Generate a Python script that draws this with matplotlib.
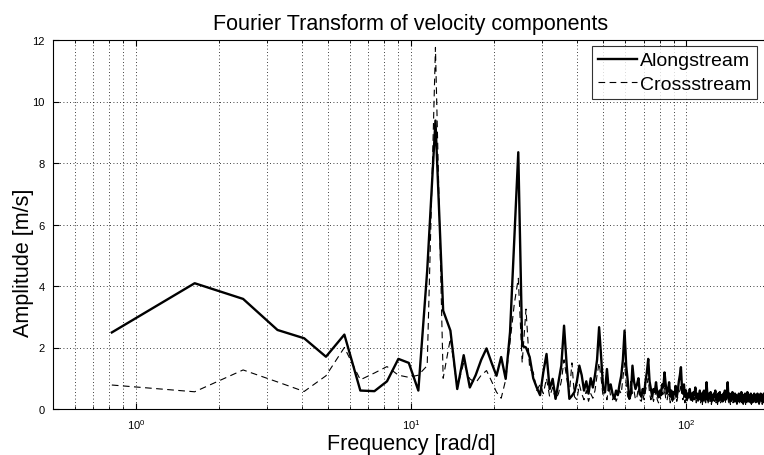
import numpy as np
import matplotlib
matplotlib.use("Agg")
import matplotlib.pyplot as plt

# frequency resolution of the FFT grid [rad/d]
df = 0.818

along = [
    2.49, 4.09, 3.58, 2.57, 2.30, 1.70, 2.42, 0.60, 0.58, 0.90,
    1.63, 1.50, 0.60, 4.50, 9.38, 3.20, 2.55, 0.65, 1.75, 0.70,
    1.10, 1.60, 1.97, 1.50, 1.08, 1.69, 0.98, 2.50, 5.50, 8.35,
    2.06, 2.00, 1.69, 1.00, 0.70, 0.45, 1.20, 1.79, 0.65, 0.98,
    0.33, 0.87, 1.41, 2.71, 1.40, 0.33, 0.43, 0.55, 0.90, 1.41,
    1.10, 0.60, 0.90, 0.50, 1.00, 0.70, 1.10, 1.60, 2.66, 1.70,
    0.70, 0.55, 1.30, 0.60, 0.80, 0.50, 0.33, 0.60, 0.45, 0.80,
    1.08, 1.60, 2.55, 1.41, 0.90, 0.33, 0.50, 1.41, 0.90, 0.65,
    0.80, 1.00, 0.50, 0.40, 0.65, 0.50, 0.90, 1.20, 1.63, 0.90,
    0.65, 0.40, 0.65, 0.55, 0.87, 0.50, 0.38, 0.60, 0.45, 0.80,
    0.70, 1.19, 0.80, 0.50, 0.60, 0.87, 0.40, 0.60, 0.30, 0.55,
    0.50, 0.75, 0.40, 0.60, 0.90, 1.10, 1.36, 0.70, 0.50, 0.80,
    0.40, 0.60, 0.30, 0.50, 0.40, 0.65, 0.35, 0.50, 0.30, 0.55,
    0.45, 0.70, 0.35, 0.50, 0.30, 0.45, 0.60, 0.30, 0.50, 0.25,
    0.55, 0.60, 0.40, 0.30, 0.87, 0.45, 0.30, 0.50, 0.35, 0.55,
    0.25, 0.45, 0.30, 0.50, 0.40, 0.60, 0.30, 0.45, 0.25, 0.50,
    0.35, 0.55, 0.30, 0.45, 0.40, 0.25, 0.50, 0.35, 0.60, 0.30,
    0.45, 0.55, 0.87, 0.40, 0.30, 0.50, 0.25, 0.45, 0.35, 0.55,
    0.30, 0.40, 0.25, 0.50, 0.35, 0.45, 0.20, 0.40, 0.30, 0.50,
    0.25, 0.45, 0.35, 0.55, 0.30, 0.40, 0.20, 0.45, 0.35, 0.50,
    0.25, 0.40, 0.30, 0.55, 0.35, 0.45, 0.25, 0.40, 0.30, 0.50,
    0.20, 0.45, 0.30, 0.40, 0.25, 0.50, 0.35, 0.45, 0.30, 0.40,
    0.25, 0.50, 0.30, 0.45, 0.20, 0.40, 0.35, 0.50, 0.30, 0.45,
    0.25, 0.40, 0.30, 0.50, 0.35,
]

cross = [
    0.78, 0.56, 1.27, 0.88, 0.57, 1.08, 2.00, 0.95, 1.17, 1.38,
    1.10, 1.03, 1.10, 1.41, 11.76, 1.00, 2.30, 0.70, 1.50, 0.98,
    0.85, 1.10, 1.25, 0.90, 0.55, 0.35, 0.95, 2.18, 3.40, 4.25,
    1.50, 3.25, 1.30, 1.20, 0.60, 0.80, 0.50, 1.00, 0.40, 0.70,
    0.30, 0.50, 0.90, 1.60, 1.00, 0.50, 1.50, 0.40, 0.30, 0.80,
    0.50, 0.30, 0.60, 0.25, 0.50, 0.35, 0.60, 1.10, 1.50, 1.00,
    0.40, 0.60, 0.30, 0.80, 0.40, 0.30, 0.50, 0.25, 0.40, 0.60,
    0.50, 1.00, 1.50, 0.80, 0.40, 0.30, 0.90, 0.50, 0.60, 0.30,
    0.40, 0.70, 0.30, 0.25, 0.50, 0.30, 0.60, 0.80, 1.00, 0.50,
    0.30, 0.45, 0.25, 0.40, 0.60, 0.30, 0.20, 0.45, 0.30, 0.55,
    0.40, 0.70, 0.35, 0.25, 0.45, 0.50, 0.20, 0.40, 0.25, 0.35,
    0.30, 0.50, 0.25, 0.40, 0.55, 0.60, 0.80, 0.40, 0.30, 0.45,
    0.20, 0.35, 0.25, 0.40, 0.30, 0.45, 0.20, 0.35, 0.25, 0.40,
    0.30, 0.45, 0.20, 0.35, 0.25, 0.30, 0.40, 0.20, 0.35, 0.15,
    0.40, 0.35, 0.25, 0.20, 0.55, 0.30, 0.20, 0.35, 0.25, 0.40,
    0.15, 0.30, 0.20, 0.35, 0.25, 0.40, 0.20, 0.30, 0.15, 0.35,
    0.25, 0.40, 0.20, 0.30, 0.25, 0.15, 0.35, 0.25, 0.40, 0.20,
    0.30, 0.35, 0.55, 0.25, 0.20, 0.35, 0.15, 0.30, 0.25, 0.40,
    0.20, 0.30, 0.15, 0.35, 0.25, 0.30, 0.15, 0.30, 0.20, 0.35,
    0.15, 0.30, 0.25, 0.40, 0.20, 0.30, 0.15, 0.30, 0.25, 0.35,
    0.15, 0.30, 0.20, 0.40, 0.25, 0.30, 0.15, 0.30, 0.20, 0.35,
    0.15, 0.30, 0.20, 0.30, 0.15, 0.35, 0.25, 0.30, 0.20, 0.30,
    0.15, 0.35, 0.20, 0.30, 0.15, 0.30, 0.25, 0.35, 0.20, 0.30,
    0.15, 0.30, 0.20, 0.35, 0.25,
]

freq = df * np.arange(1, len(along) + 1)

plt.rcParams['font.family'] = ['Liberation Sans', 'DejaVu Sans']
plt.rcParams['mathtext.fontset'] = 'custom'
plt.rcParams['mathtext.rm'] = 'Liberation Sans'

fig = plt.figure(figsize=(7.64, 4.56), dpi=100)
ax = fig.add_axes([53 / 764, 46 / 456, (769 - 53) / 764, (410 - 41) / 456])

ax.plot(freq, along, color='black', lw=1.7, label='Alongstream')
ax.plot(freq, cross, color='black', lw=0.8, dashes=(6, 4), label='Crossstream')

ax.set_xscale('log')
ax.set_xlim(0.5, 200)
ax.set_ylim(0, 12)
ax.set_yticks([0, 2, 4, 6, 8, 10, 12])
ax.set_xticks([1, 10, 100])
ax.set_xticklabels([r'$10^0$', r'$10^1$', r'$10^2$'])

ax.grid(True, which='major', axis='both', linestyle=(0, (1, 3)), color='black', lw=0.6)
ax.grid(True, which='minor', axis='x', linestyle=(0, (1, 3)), color='black', lw=0.6)

ax.tick_params(which='both', direction='in', top=True, right=True, labelsize=8, pad=6)
ax.tick_params(which='major', length=4)
ax.tick_params(which='minor', length=2.5)
for s in ax.spines.values():
    s.set_linewidth(0.8)

ax.set_title('Fourier Transform of velocity components', fontsize=15.5, pad=8)
ax.set_xlabel('Frequency [rad/d]', fontsize=15.5, labelpad=1)
ax.set_ylabel('Amplitude [m/s]', fontsize=15.5)
ax.yaxis.set_label_coords(-0.026, 0.40)

leg = ax.legend(loc='upper right', bbox_to_anchor=((757 - 53) / (769 - 53), 1 - 6 / 369),
                fontsize=14, frameon=True, fancybox=False, handlelength=2.0,
                borderpad=0.3, labelspacing=0.3, handletextpad=0.15, borderaxespad=0)
leg.get_frame().set_edgecolor('black')
leg.get_frame().set_linewidth(0.8)

fig.savefig('out.png', dpi=100)
